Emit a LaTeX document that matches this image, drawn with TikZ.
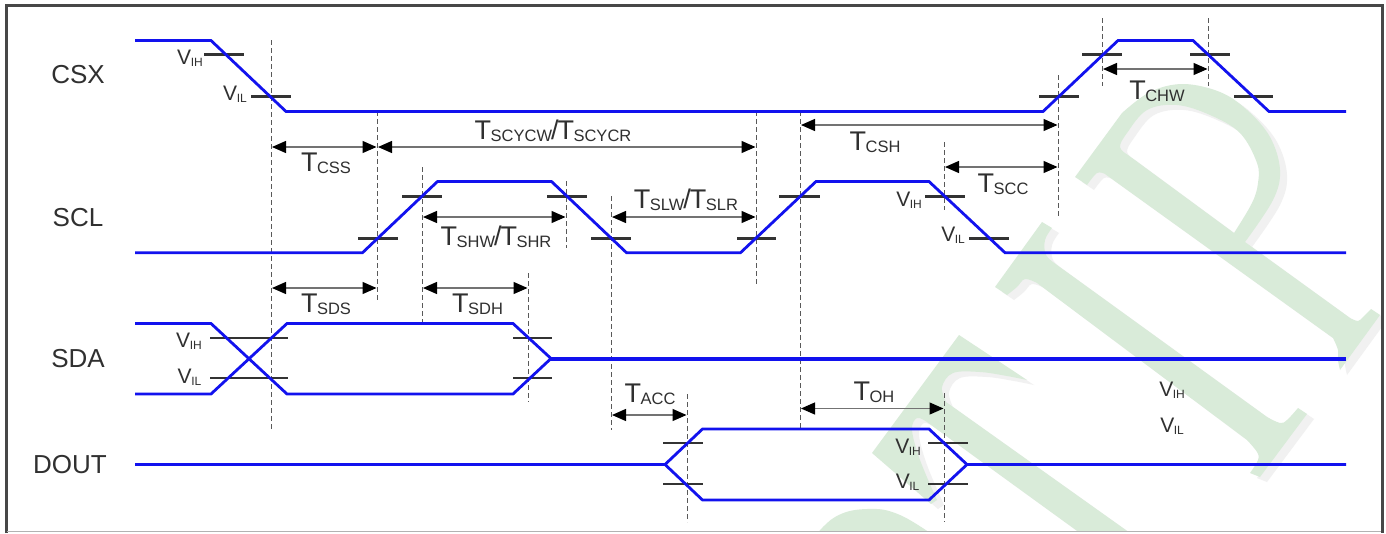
\documentclass[tikz,border=0pt]{standalone}
\usepackage{fontspec}
\setmainfont{Liberation Sans}
\usetikzlibrary{arrows.meta}
\definecolor{wmgreen}{HTML}{D9EBD9}
\definecolor{wmshade}{HTML}{F1F1F1}
\definecolor{sigblue}{HTML}{1212EE}
\definecolor{txt}{HTML}{303030}
\newcommand\Tlab[1]{{\fontsize{27}{27}\selectfont T}\kern-.5pt\raisebox{-2.5pt}{\fontsize{16.5}{17}\selectfont #1}}
\newcommand\Tsl{{\fontsize{27}{27}\selectfont\kern-1pt/\kern-1pt}}
\newcommand\Vlab[1]{{\fontsize{21}{21}\selectfont V}\kern-.5pt\raisebox{-2pt}{\fontsize{12}{12}\selectfont #1}}
\newcommand\wmglyphs{%
  % P
  \fill[even odd rule] (1075,177) -- (1122,113)
    -- plot[smooth,tension=.6] coordinates {(1122,113) (1150,92) (1183,84) (1220,92) (1247,110) (1270,137) (1280,170) (1273,200) (1245,242)}
    -- (1350,318) -- plot[smooth,tension=.6] coordinates {(1350,318) (1358,321) (1363,317) (1371,309)}
    -- (1380,315) -- (1340,370)
    -- plot[smooth,tension=.6] coordinates {(1340,370) (1338,360) (1338,350) (1333,338)}
    -- (1105,174) -- plot[smooth,tension=.6] coordinates {(1105,174) (1097,173) (1087,185)} -- cycle
    (1128,155) -- (1234,233)
    -- plot[smooth,tension=.6] coordinates {(1234,233) (1252,203) (1258,183) (1257,163) (1240,133) (1210,115) (1177,105) (1147,110) (1127,133) (1120,147) (1128,155)} -- cycle;
  % I
  \fill (995,287) -- (1042,222) -- (1052,228)
    -- plot[smooth,tension=.6] coordinates {(1052,228) (1045,240) (1046,255) (1057,265)}
    -- (1267,417) -- plot[smooth,tension=.6] coordinates {(1267,417) (1280,423) (1287,420) (1298,408)}
    -- (1307,414) -- (1260,477) -- (1250,473)
    -- plot[smooth,tension=.6] coordinates {(1250,473) (1258,460) (1257,452) (1247,440)}
    -- (1037,283) -- plot[smooth,tension=.6] coordinates {(1037,283) (1025,279) (1017,287) (1007,295)} -- cycle;
  % T
  \fill (959,335) -- (1027,380)
    -- plot[smooth,tension=.6] coordinates {(1027,380) (1007,376) (980,372) (953,373) (942,387) (946,402)}
    -- (1130,533) -- (1130,545) -- (1080,545) -- (1080,533) -- (927,422)
    -- plot[smooth,tension=.6] coordinates {(927,422) (917,418) (912,430) (920,460) (937,500)}
    -- (931,504) -- (872,453) -- cycle;
  % arc at the bottom
  \fill plot[smooth,tension=.7] coordinates {(812,540) (835,517) (867,509) (900,515) (940,540)} -- cycle;
}
\tikzset{
  sig/.style={draw=sigblue,line width=2.8pt,line join=miter},
  sigb/.style={draw=sigblue,line width=4pt},
  tickbar/.style={draw=black!80,line width=2.2pt},
  guide/.style={draw=black!65,line width=1pt,dash pattern=on 5pt off 3pt},
  spanarrow/.style={draw=black!55,line width=1.3pt,{Triangle[length=14pt,width=12pt,color=black]}-{Triangle[length=14pt,width=12pt,color=black]}},
  signame/.style={anchor=base,inner sep=0pt,text=txt,font=\fontsize{26}{26}\selectfont},
  lab/.style={anchor=base,inner sep=0pt,text=txt},
}
\begin{document}
\begin{tikzpicture}[x=1pt,y=-1pt]
\useasboundingbox (0,0) rectangle (1386,533);
\fill[white] (0,0) rectangle (1386,533);
% watermark
\begin{scope}
  \clip (7,6) rectangle (1381,531);
  \begin{scope}[shift={(7,5)},fill=wmshade] \wmglyphs \end{scope}
  \begin{scope}[fill=wmgreen] \wmglyphs \end{scope}
\end{scope}
% frame
\coordinate (f1) at (6,533); \coordinate (f2) at (6,5); \coordinate (f3) at (1382,5); \coordinate (f4) at (1382,533);
\draw[line width=3pt,draw=black!72] (f1) -- (f2) -- (f3) -- (f4);
\coordinate (f5) at (7,531.5); \coordinate (f6) at (1381,531.5);
\draw[line width=1.3pt,draw=black!30] (f5) -- (f6);
% guides
\foreach \n/\x/\ya/\yb in {a/271/40/430,b/377/111/300,c/422/167/323,d/566/181/248,e/611/196/430,f/756/111/285,g/800/111/429,h/944/142/210,i/944/393/522,j/1058/75/218,k/1102/18/86,l/1208/18/86,m/528/273/402,n/687/394/522}{
  \coordinate (g\n a) at (\x,\ya); \coordinate (g\n b) at (\x,\yb);
  \draw[guide] (g\n a) -- (g\n b);
}
% threshold ticks
\foreach \n/\xa/\xb/\y in {a/204/244/54.5,b/251/291/96.5,c/1082/1122/54.5,d/1190/1230/54.5,e/1039/1079/96.5,f/1234/1273/96.5,
  g/402/442/196.5,h/547/587/196.5,i/779/820/196.5,j/925/965/196.5,k/358/398/238.5,l/591/631/238.5,m/737/776/238.5,n/969/1009/238.5,
  o/210/288/338,p/513/552/338,q/210/288/378,r/513/552/378,
  s/663/703/443,t/928/968/443,u/663/703/484,v/928/968/484}{
  \coordinate (t\n a) at (\xa,\y); \coordinate (t\n b) at (\xb,\y);
  \draw[tickbar] (t\n a) -- (t\n b);
}
% signals
\draw[sig] (135,40.5) -- (211,40.5) -- (286,111.5) -- (1043,111.5) -- (1118,40.5) -- (1193,40.5) -- (1269,111.5) -- (1346,111.5);
\draw[sig] (135,252.7) -- (362.5,252.7) -- (437.5,181.5) -- (551.5,181.5) -- (626.5,252.7) -- (740.5,252.7) -- (816,181.5) -- (929,181.5) -- (1005,252.7) -- (1346,252.7);
\draw[sig] (135,323.5) -- (211,323.5) -- (287,394) -- (513,394) -- (551,358.5);
\draw[sig] (135,394) -- (211,394) -- (287,323.5) -- (513,323.5) -- (551,358.5);
\draw[sigb] (550,358.5) -- (1346,358.5);
\draw[sig] (135,464.5) -- (665,464.5) -- (702.5,429) -- (929,429) -- (967,464.5) -- (1346,464.5);
\draw[sig] (665,464.5) -- (702.5,500) -- (929,500) -- (967,464.5);
% spans
\foreach \n/\xa/\xb/\y in {a/272/376.5/147,b/378/755.5/147,c/801/1057.5/125,d/1103/1207.5/69,e/945/1057.5/167,f/423/565.5/217,g/612/755.5/217,h/272/376.5/288,i/423/527.5/288,j/612/686.5/415,k/801/943.5/408.5}{
  \coordinate (s\n a) at (\xa,\y); \coordinate (s\n b) at (\xb,\y);
  \draw[spanarrow] (s\n a) -- (s\n b);
}
% names
\node[signame] (ncsx) at (78,83) {CSX};
\node[signame] (nscl) at (78,226) {SCL};
\node[signame] (nsda) at (78,367) {SDA};
\node[signame] (ndout) at (70,473) {DOUT};
% timing labels
\node[lab] (lcss) at (326,171) {\Tlab{CSS}};
\node[lab] (lcyc) at (553,139) {\Tlab{SCYCW}\Tsl\Tlab{SCYCR}};
\node[lab] (lcsh) at (875,150) {\Tlab{CSH}};
\node[lab] (lchw) at (1157,99) {\Tlab{CHW}};
\node[lab] (lscc) at (1003,192) {\Tlab{SCC}};
\node[lab] (lshw) at (496,245) {\Tlab{SHW}\Tsl\Tlab{SHR}};
\node[lab] (lslw) at (686,208) {\Tlab{SLW}\Tsl\Tlab{SLR}};
\node[lab] (lsds) at (326,312) {\Tlab{SDS}};
\node[lab] (lsdh) at (477.5,312) {\Tlab{SDH}};
\node[lab] (lacc) at (650,402) {\Tlab{ACC}};
\node[lab] (loh) at (874,400) {\Tlab{OH}};
% level labels
\node[lab] (v1) at (190,64) {\Vlab{IH}};
\node[lab] (v2) at (235,100) {\Vlab{IL}};
\node[lab] (v3) at (909,206) {\Vlab{IH}};
\node[lab] (v4) at (953,241.5) {\Vlab{IL}};
\node[lab] (v5) at (189,347.5) {\Vlab{IH}};
\node[lab] (v6) at (189.5,383) {\Vlab{IL}};
\node[lab] (v7) at (1172,396.5) {\Vlab{IH}};
\node[lab] (v8) at (1172,432) {\Vlab{IL}};
\node[lab] (v9) at (908,453) {\Vlab{IH}};
\node[lab] (v10) at (907.5,488) {\Vlab{IL}};
\end{tikzpicture}
\end{document}
